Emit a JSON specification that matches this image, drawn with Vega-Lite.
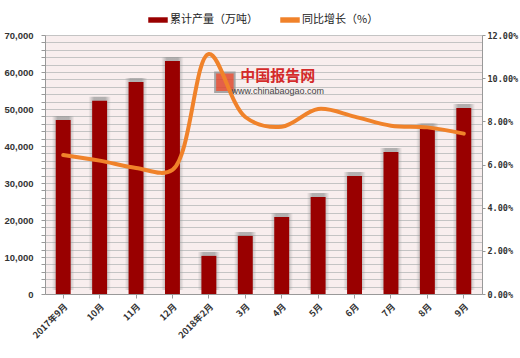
{
  "$schema": "https://vega.github.io/schema/vega-lite/v6.json",
  "width": 437,
  "height": 259,
  "autosize": {"type": "none"},
  "padding": {"left": 45, "top": 35, "right": 38, "bottom": 64},
  "background": "white",
  "data": {
    "values": [
      {"month": "2017年9月", "output": 47000, "growth": 0.0644},
      {"month": "10月", "output": 52200, "growth": 0.0618},
      {"month": "11月", "output": 57300, "growth": 0.0584},
      {"month": "12月", "output": 63000, "growth": 0.0575},
      {"month": "2018年2月", "output": 10300, "growth": 0.1112},
      {"month": "3月", "output": 15700, "growth": 0.082},
      {"month": "4月", "output": 20800, "growth": 0.0775},
      {"month": "5月", "output": 26200, "growth": 0.0857},
      {"month": "6月", "output": 31900, "growth": 0.0822},
      {"month": "7月", "output": 38400, "growth": 0.078},
      {"month": "8月", "output": 45100, "growth": 0.0772},
      {"month": "9月", "output": 50300, "growth": 0.0743}
    ]
  },
  "encoding": {
    "x": {
      "field": "month",
      "type": "nominal",
      "sort": null,
      "scale": {"paddingInner": 0, "paddingOuter": 0},
      "axis": {
        "title": null,
        "labelAngle": -45,
        "labelAlign": "right",
        "labelBaseline": "top",
        "labelFont": "Noto Sans CJK SC",
        "labelFontSize": 9,
        "labelFontWeight": "bold",
        "labelColor": "#333333",
        "labelPadding": 4,
        "tickSize": 4,
        "tickColor": "#999999",
        "domainColor": "#999999",
        "grid": false
      }
    }
  },
  "layer": [
    {
      "layer": [
        {
          "mark": {
            "type": "bar",
            "width": {"band": 0.62},
            "yOffset": -4,
            "y2Offset": 0,
            "fill": {
              "x1": 0, "y1": 0, "x2": 1, "y2": 0,
              "gradient": "linear",
              "stops": [
                {"offset": 0, "color": "rgba(150,150,150,0)"},
                {"offset": 0.25, "color": "rgba(150,150,150,0.7)"},
                {"offset": 0.75, "color": "rgba(150,150,150,0.7)"},
                {"offset": 1, "color": "rgba(150,150,150,0)"}
              ]
            }
          },
          "encoding": {
            "y": {
              "field": "output",
              "type": "quantitative",
              "scale": {"domain": [0, 70000], "nice": false},
              "axis": {
                "title": null,
                "orient": "left",
                "values": [0, 2000, 4000, 6000, 8000, 10000, 12000, 14000, 16000, 18000, 20000, 22000, 24000, 26000, 28000, 30000, 32000, 34000, 36000, 38000, 40000, 42000, 44000, 46000, 48000, 50000, 52000, 54000, 56000, 58000, 60000, 62000, 64000, 66000, 68000, 70000],
                "tickCount": 40,
                "labelExpr": "datum.value % 10000 === 0 ? format(datum.value, ',') : ''",
                "labelOverlap": false,
                "labelFont": "Liberation Sans",
                "labelFontSize": 9.5,
                "labelFontWeight": "bold",
                "labelColor": "#333333",
                "labelPadding": 8,
                "tickSize": 4,
                "tickColor": "#999999",
                "domainColor": "#999999",
                "grid": true,
                "gridColor": "#c4c4c4",
                "gridWidth": 1
              }
            }
          }
        },
        {
          "mark": {"type": "bar", "width": {"band": 0.41}},
          "encoding": {
            "y": {"field": "output", "type": "quantitative"},
            "color": {"datum": "累计产量（万吨）"}
          }
        },
        {
          "data": {"values": [{}]},
          "mark": {"type": "point", "shape": "square", "size": 380, "filled": true, "fill": "#e0482e", "stroke": "#999999", "strokeWidth": 2, "opacity": 0.85, "xOffset": 16},
          "encoding": {
            "x": {"datum": "2018年2月"},
            "y": {"datum": 57200}
          }
        },
        {
          "data": {"values": [{}]},
          "mark": {"type": "text", "text": "中国报告网", "font": "Noto Sans CJK SC", "fontSize": 15, "fontWeight": "bold", "color": "#d42a2a", "align": "center", "baseline": "middle", "dx": -4},
          "encoding": {
            "x": {"datum": "4月"},
            "y": {"datum": 59000}
          }
        },
        {
          "data": {"values": [{}]},
          "mark": {"type": "text", "text": "www.chinabaogao.com", "font": "Liberation Sans", "fontSize": 9, "color": "#444444", "align": "center", "baseline": "middle", "dx": -4},
          "encoding": {
            "x": {"datum": "4月"},
            "y": {"datum": 55000}
          }
        }
      ]
    },
    {
      "mark": {"type": "line", "interpolate": "catmull-rom", "strokeWidth": 4, "strokeCap": "round"},
      "encoding": {
        "y": {
          "field": "growth",
          "type": "quantitative",
          "scale": {"domain": [0, 0.12], "nice": false},
          "axis": {
            "title": null,
            "orient": "right",
            "values": [0, 0.02, 0.04, 0.06, 0.08, 0.1, 0.12],
            "tickCount": 10,
            "format": ".2%",
            "labelOverlap": false,
            "labelFont": "DejaVu Sans Mono",
            "labelFontSize": 8.5,
            "labelFontWeight": "bold",
            "labelColor": "#333333",
            "labelPadding": 2,
            "tickSize": 3,
            "tickColor": "#999999",
            "domainColor": "#999999",
            "grid": false
          }
        },
        "color": {"datum": "同比增长（%）"}
      }
    }
  ],
  "resolve": {"scale": {"y": "independent"}},
  "config": {
    "view": {"fill": "#f8eeee", "stroke": null},
    "range": {"category": ["#990000", "#f0822a"]},
    "legend": {
      "orient": "none",
      "legendX": 103,
      "legendY": -25,
      "direction": "horizontal",
      "title": null,
      "labelFont": "Noto Sans CJK SC",
      "labelFontSize": 11,
      "labelColor": "#222222",
      "symbolType": "M-1,-0.28L1,-0.28L1,0.28L-1,0.28Z",
      "symbolSize": 380,
      "symbolStrokeWidth": 0,
      "symbolOffset": 0,
      "labelOffset": 2,
      "columnPadding": 22
    }
  }
}
